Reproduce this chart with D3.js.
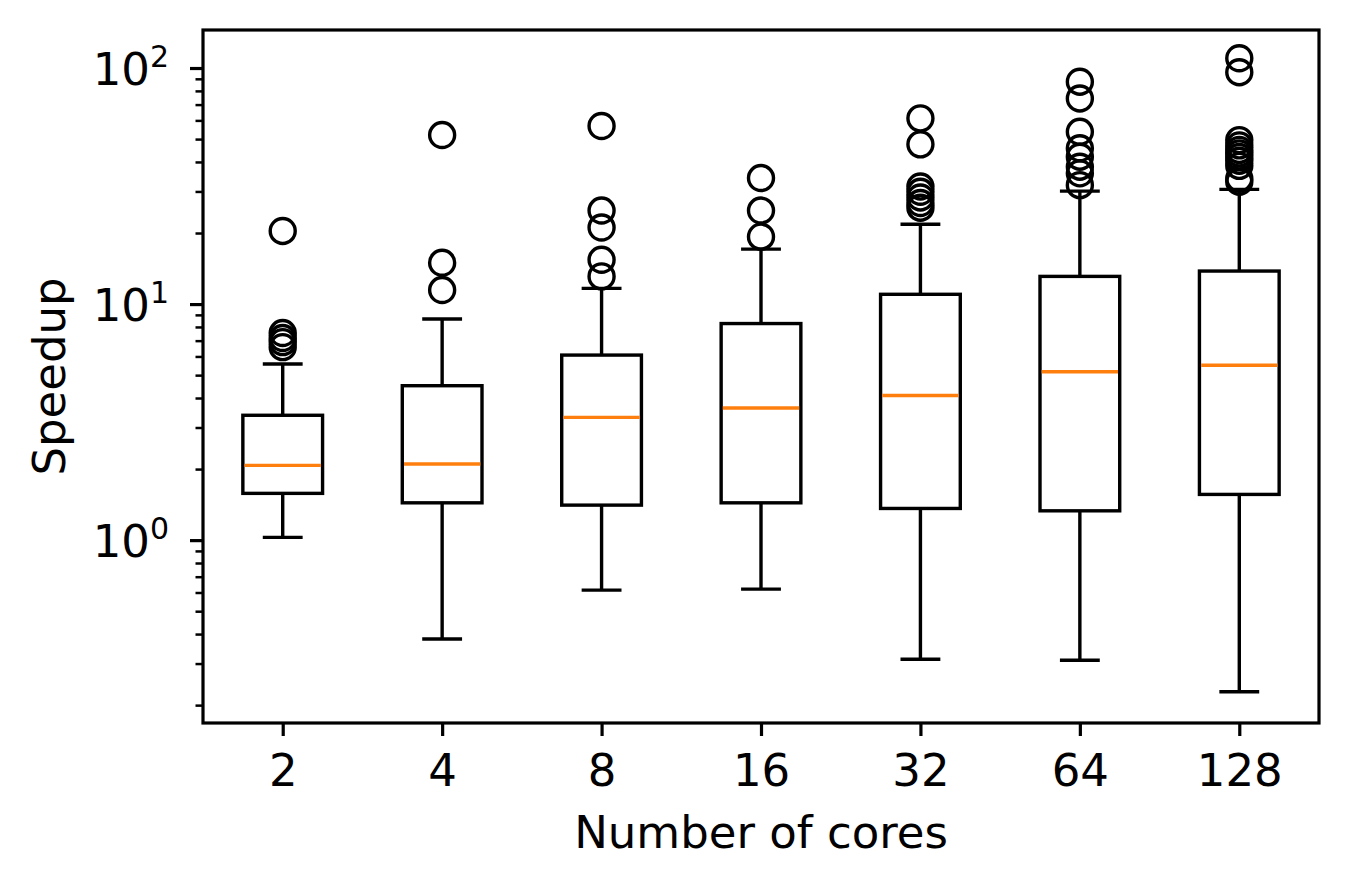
<!DOCTYPE html>
<html>
<head>
<meta charset="utf-8">
<script src="https://cdn.jsdelivr.net/npm/d3@7"></script>
<style>
  body { margin: 0; background: #fff; }
  text { font-family: "DejaVu Sans", sans-serif; fill: #000; }
</style>
</head>
<body>
<svg id="chart" width="1350" height="888"></svg>
<script>
// cores on the x axis
var cores = ['2', '4', '8', '16', '32', '64', '128'];
// box stats (speedup, log axis)
var whiskerLow = [1.027, 0.381, 0.614, 0.620, 0.313, 0.310, 0.228];
var q1 = [1.578, 1.439, 1.407, 1.439, 1.362, 1.331, 1.562];
var median = [2.073, 2.10, 3.31, 3.63, 4.10, 5.17, 5.51];
var q3 = [3.38, 4.51, 6.08, 8.27, 11.0, 13.1, 13.8];
var whiskerHigh = [5.57, 8.64, 11.66, 17.1, 21.8, 30.1, 30.6];
var outliers = [
  [20.4, 7.54, 7.18, 6.9, 6.57],
  [52.0, 14.96, 11.47],
  [56.8, 24.9, 21.1, 15.4, 13.1],
  [34.2, 24.9, 19.3],
  [61.2, 47.5, 31.5, 29.9, 28.3, 26.8, 25.6],
  [87.5, 74.3, 53.7, 45.7, 42.1, 38.2, 35.8, 31.9],
  [110, 96, 49.5, 47, 45, 43.5, 42, 40.5, 38.5, 34, 33]
];
var majorTicks = [1, 10, 100];
var minorTicks = [0.2, 0.3, 0.4, 0.5, 0.6, 0.7, 0.8, 0.9, 2, 3, 4, 5, 6, 7, 8, 9, 20, 30, 40, 50, 60, 70, 80, 90];

var svg, padL, padR, padT, padB, x, y, step, boxW, capW, lw, fs, g, boxes, xAxis, yAxis, yMinor, data;
svg = d3.select('#chart');
padL = 203; padR = 1319; padT = 30; padB = 723;
lw = 3.4;
fs = 45;

x = d3.scalePoint().domain(cores).range([padL, padR]).padding(0.5);
y = d3.scaleLog().domain([0.168, 144.9]).range([padB, padT]);
step = x.step();
boxW = step * 0.5;
capW = step * 0.25;

data = cores.map(function(c, i) {
  return {core: c, lo: whiskerLow[i], q1: q1[i], med: median[i], q3: q3[i], hi: whiskerHigh[i], out: outliers[i]};
});

g = svg.append('g');
boxes = g.selectAll('g.box').data(data).enter().append('g').attr('class', 'box');

// whiskers
boxes.append('line').attr('x1', function(d) { return x(d.core); }).attr('x2', function(d) { return x(d.core); })
  .attr('y1', function(d) { return y(d.lo); }).attr('y2', function(d) { return y(d.q1); })
  .style('stroke', '#000').style('stroke-width', lw);
boxes.append('line').attr('x1', function(d) { return x(d.core); }).attr('x2', function(d) { return x(d.core); })
  .attr('y1', function(d) { return y(d.q3); }).attr('y2', function(d) { return y(d.hi); })
  .style('stroke', '#000').style('stroke-width', lw);
// caps
['lo', 'hi'].forEach(function(k) {
  boxes.append('line').attr('x1', function(d) { return x(d.core) - capW / 2; }).attr('x2', function(d) { return x(d.core) + capW / 2; })
    .attr('y1', function(d) { return y(d[k]); }).attr('y2', function(d) { return y(d[k]); })
    .style('stroke', '#000').style('stroke-width', lw);
});
// box
boxes.append('rect').attr('x', function(d) { return x(d.core) - boxW / 2; }).attr('width', boxW)
  .attr('y', function(d) { return y(d.q3); }).attr('height', function(d) { return y(d.q1) - y(d.q3); })
  .style('fill', 'none').style('stroke', '#000').style('stroke-width', lw);
// median
boxes.append('line').attr('x1', function(d) { return x(d.core) - boxW / 2 + lw / 2; }).attr('x2', function(d) { return x(d.core) + boxW / 2 - lw / 2; })
  .attr('y1', function(d) { return y(d.med); }).attr('y2', function(d) { return y(d.med); })
  .style('stroke', '#ff7f0e').style('stroke-width', lw);
// fliers
boxes.each(function(d) {
  d3.select(this).selectAll('circle').data(d.out).enter().append('circle')
    .attr('cx', x(d.core)).attr('cy', function(v) { return y(v); }).attr('r', 12.5)
    .style('fill', 'none').style('stroke', '#000').style('stroke-width', lw);
});

// y axis: majors with 10^n labels, minors without
yAxis = svg.append('g').attr('transform', 'translate(' + padL + ',0)')
  .call(d3.axisLeft(y).tickValues(majorTicks).tickSize(13).tickFormat(''));
yAxis.select('.domain').remove();
yAxis.selectAll('.tick line').style('stroke', '#000').style('stroke-width', 3.2);
yAxis.selectAll('.tick text').remove();
yAxis.selectAll('.tick').append('text').attr('x', -34).attr('y', 16).attr('text-anchor', 'end')
  .style('font-size', fs + 'px').each(function(v) {
    var t = d3.select(this);
    t.append('tspan').text('10');
    t.append('tspan').attr('dy', -18).style('font-size', '30px').text(Math.round(Math.log10(v)));
  });
yMinor = svg.append('g').attr('transform', 'translate(' + padL + ',0)')
  .call(d3.axisLeft(y).tickValues(minorTicks).tickSize(7.5).tickFormat(''));
yMinor.select('.domain').remove();
yMinor.selectAll('.tick text').remove();
yMinor.selectAll('.tick line').style('stroke', '#000').style('stroke-width', 2.5);

// x axis
xAxis = svg.append('g').attr('transform', 'translate(0,' + padB + ')')
  .call(d3.axisBottom(x).tickSize(13));
xAxis.select('.domain').remove();
xAxis.selectAll('.tick line').style('stroke', '#000').style('stroke-width', 3.2);
xAxis.selectAll('.tick text').attr('y', 63).attr('dy', 0).attr('font-family', null).attr('font-size', null)
  .style('font-size', fs + 'px').style('fill', '#000');

// frame
svg.append('rect').attr('x', padL).attr('y', padT).attr('width', padR - padL).attr('height', padB - padT)
  .style('fill', 'none').style('stroke', '#000').style('stroke-width', 3.2);

// axis labels
svg.append('text').attr('x', (padL + padR) / 2).attr('y', 848).attr('text-anchor', 'middle')
  .style('font-size', fs + 'px').text('Number of cores');
svg.append('text').attr('transform', 'translate(65,' + (padT + padB) / 2 + ') rotate(-90)').attr('text-anchor', 'middle')
  .style('font-size', fs + 'px').text('Speedup');
</script>
</body>
</html>
